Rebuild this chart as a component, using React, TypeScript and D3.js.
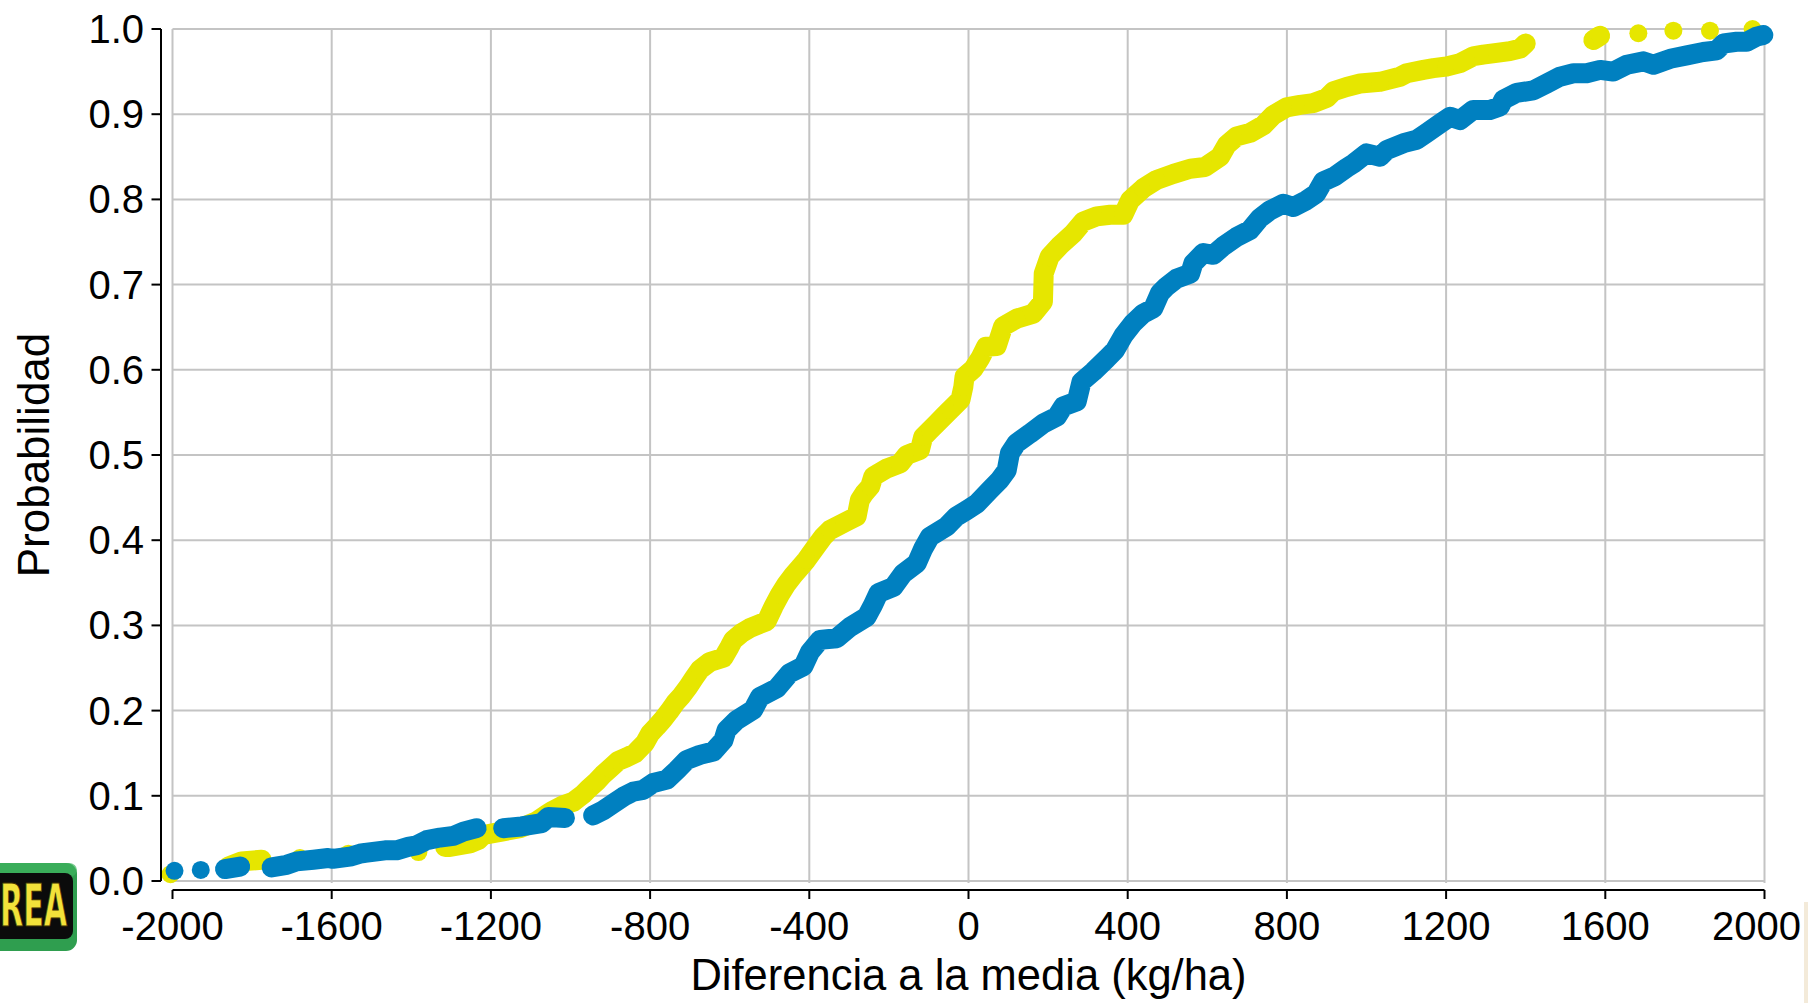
import React from "react";
import * as d3 from "d3";

const xTicks = [-2000, -1600, -1200, -800, -400, 0, 400, 800, 1200, 1600, 2000];
const yTicks = [0, 0.1, 0.2, 0.3, 0.4, 0.5, 0.6, 0.7, 0.8, 0.9, 1.0];
const xTitle = "Diferencia a la media (kg/ha)";
const yTitle = "Probabilidad";

// Yellow series: [difference (kg/ha), cumulative probability]
const yellowSeries: [number, number][] = [
  [-2005, 0.008], [-1860, 0.017], [-1826, 0.023], [-1776, 0.025], [-1680, 0.027],
  [-1558, 0.032], [-1382, 0.034], [-1315, 0.040], [-1303, 0.040], [-1253, 0.044],
  [-1232, 0.048], [-1219, 0.054], [-1173, 0.058], [-1127, 0.062], [-1085, 0.070],
  [-1060, 0.078], [-1043, 0.083], [-1018, 0.089], [-993, 0.093], [-968, 0.102],
  [-955, 0.108], [-934, 0.117], [-918, 0.125], [-901, 0.132], [-880, 0.141],
  [-860, 0.145], [-838, 0.150], [-813, 0.162], [-800, 0.173], [-784, 0.181],
  [-767, 0.190], [-752, 0.199], [-737, 0.209], [-720, 0.218], [-704, 0.228],
  [-690, 0.238], [-675, 0.248], [-650, 0.257], [-616, 0.262], [-600, 0.275],
  [-591, 0.283], [-570, 0.291], [-549, 0.297], [-507, 0.305], [-490, 0.322],
  [-474, 0.336], [-458, 0.348], [-440, 0.359], [-423, 0.368], [-407, 0.377],
  [-381, 0.394], [-365, 0.404], [-348, 0.412], [-306, 0.422], [-281, 0.428],
  [-273, 0.447], [-262, 0.455], [-247, 0.463], [-239, 0.475], [-206, 0.484],
  [-172, 0.490], [-155, 0.500], [-122, 0.506], [-114, 0.521], [-97, 0.529],
  [-80, 0.537], [-63, 0.545], [-46, 0.553], [-20, 0.565], [-13, 0.580],
  [-10, 0.592], [12, 0.601], [30, 0.614], [44, 0.627], [71, 0.628],
  [87, 0.651], [121, 0.660], [163, 0.666], [187, 0.680], [188, 0.696],
  [189, 0.713], [204, 0.733], [230, 0.746], [263, 0.760], [288, 0.774],
  [322, 0.780], [356, 0.782], [389, 0.782], [406, 0.799], [439, 0.813],
  [473, 0.823], [515, 0.830], [557, 0.836], [594, 0.838], [632, 0.850],
  [649, 0.864], [674, 0.874], [707, 0.878], [741, 0.887], [766, 0.899],
  [799, 0.908], [833, 0.911], [866, 0.913], [900, 0.919], [917, 0.927],
  [950, 0.932], [984, 0.936], [1034, 0.938], [1084, 0.944], [1101, 0.948],
  [1143, 0.952], [1168, 0.954], [1201, 0.956], [1235, 0.960], [1268, 0.968],
  [1293, 0.970], [1327, 0.972], [1360, 0.974], [1386, 0.977], [1400, 0.983],
  [1570, 0.987], [1587, 0.992], [1683, 0.995], [1771, 0.998], [1863, 0.998],
  [1970, 1.0],
];

// Blue series
const blueSeries: [number, number][] = [
  [-1995, 0.012], [-1929, 0.013], [-1868, 0.014], [-1830, 0.017], [-1751, 0.016],
  [-1713, 0.019], [-1688, 0.023], [-1646, 0.025], [-1609, 0.027], [-1597, 0.026],
  [-1550, 0.029], [-1529, 0.032], [-1516, 0.033], [-1466, 0.036], [-1437, 0.036],
  [-1408, 0.040], [-1386, 0.042], [-1361, 0.048], [-1328, 0.051], [-1294, 0.053],
  [-1269, 0.058], [-1236, 0.062], [-1169, 0.062], [-1123, 0.064], [-1072, 0.068],
  [-1056, 0.075], [-1014, 0.074], [-943, 0.077], [-918, 0.083], [-892, 0.091],
  [-867, 0.099], [-842, 0.105], [-817, 0.107], [-792, 0.115], [-758, 0.119],
  [-733, 0.130], [-708, 0.142], [-675, 0.148], [-641, 0.152], [-616, 0.165],
  [-608, 0.177], [-582, 0.189], [-541, 0.201], [-524, 0.216], [-482, 0.226],
  [-449, 0.244], [-415, 0.252], [-398, 0.269], [-373, 0.283], [-331, 0.285],
  [-298, 0.298], [-256, 0.310], [-240, 0.324], [-226, 0.338], [-189, 0.345],
  [-164, 0.361], [-130, 0.373], [-114, 0.390], [-97, 0.404], [-55, 0.416],
  [-30, 0.428], [-5, 0.435], [21, 0.443], [54, 0.459], [79, 0.471],
  [96, 0.482], [104, 0.502], [121, 0.514], [154, 0.525], [188, 0.537],
  [222, 0.545], [238, 0.557], [272, 0.563], [284, 0.586], [314, 0.598],
  [347, 0.613], [368, 0.623], [389, 0.640], [414, 0.655], [439, 0.666],
  [464, 0.672], [481, 0.690], [498, 0.698], [523, 0.707], [557, 0.713],
  [565, 0.725], [590, 0.737], [615, 0.735], [640, 0.745], [674, 0.756],
  [707, 0.764], [732, 0.778], [757, 0.787], [791, 0.795], [816, 0.791],
  [849, 0.799], [874, 0.807], [891, 0.821], [920, 0.827], [950, 0.837],
  [967, 0.842], [1000, 0.854], [1034, 0.850], [1051, 0.858], [1093, 0.866],
  [1126, 0.870], [1151, 0.878], [1185, 0.889], [1210, 0.897], [1235, 0.893],
  [1268, 0.905], [1310, 0.905], [1335, 0.909], [1344, 0.917], [1377, 0.925],
  [1419, 0.928], [1453, 0.936], [1486, 0.944], [1520, 0.948], [1553, 0.948],
  [1587, 0.952], [1620, 0.950], [1654, 0.958], [1696, 0.962], [1721, 0.958],
  [1763, 0.965], [1805, 0.969], [1846, 0.973], [1880, 0.975], [1897, 0.983],
  [1930, 0.985], [1955, 0.985], [1980, 0.991], [1997, 0.993],
];

const W = 1808;
const H = 1003;
const FONT = "'Liberation Sans', Arial, Helvetica, sans-serif";
const YELLOW = "#e6e600";
const BLUE = "#0080c0";
const R = 9;
const BAND = 20;

const x = d3.scaleLinear().domain([-2000, 2000]).range([172.5, 1764.5]);
const y = d3.scaleLinear().domain([0, 1]).range([881, 29]);

function runs(pts: [number, number][]): [number, number][][] {
  const out: [number, number][][] = [];
  let cur: [number, number][] = [];
  pts.forEach((p, i) => {
    if (i === 0) {
      cur = [p];
      return;
    }
    const q = pts[i - 1];
    const d = Math.hypot(x(p[0]) - x(q[0]), y(p[1]) - y(q[1]));
    if (d < 22) cur.push(p);
    else {
      out.push(cur);
      cur = [p];
    }
  });
  if (cur.length) out.push(cur);
  return out;
}

const line = d3
  .line<[number, number]>()
  .x((d) => x(d[0]))
  .y((d) => y(d[1]))
  .curve(d3.curveLinear);

function Series({ data, color }: { data: [number, number][]; color: string }) {
  const groups = runs(data).filter((g) => g.length > 1);
  return (
    <g>
      {groups.map((g, i) => (
        <path
          key={"l" + i}
          d={line(g) || ""}
          fill="none"
          stroke={color}
          strokeWidth={BAND}
          strokeLinecap="round"
          strokeLinejoin="round"
        />
      ))}
      {data.map((d, i) => (
        <circle key={i} cx={x(d[0])} cy={y(d[1])} r={R} fill={color} />
      ))}
    </g>
  );
}

export default function App() {
  const fmtY = d3.format(".1f");
  const lastX = xTicks[xTicks.length - 1];
  return (
    <svg
      width={W}
      height={H}
      viewBox={`0 0 ${W} ${H}`}
      style={{ position: "absolute", left: 0, top: 0, background: "#ffffff" }}
    >
      <rect x={0} y={0} width={W} height={H} fill="#ffffff" />
      {/* faint strip at right edge */}
      <rect x={1804} y={902} width={4} height={101} fill="#f3ead9" />

      {/* grid */}
      <g stroke="#c4c4c4" strokeWidth={2}>
        {xTicks.map((t) => (
          <line key={"gx" + t} x1={x(t)} x2={x(t)} y1={y(1)} y2={y(0) + 2} />
        ))}
        {yTicks.map((t) => (
          <line key={"gy" + t} x1={x(-2000)} x2={x(2000)} y1={y(t)} y2={y(t)} />
        ))}
      </g>

      <Series data={yellowSeries} color={YELLOW} />
      <Series data={blueSeries} color={BLUE} />

      {/* y axis */}
      <g>
        <line x1={161} x2={161} y1={y(1)} y2={y(0)} stroke="#000" strokeWidth={2} />
        {yTicks.map((t) => (
          <g key={"ty" + t}>
            <line x1={151.5} x2={161} y1={y(t)} y2={y(t)} stroke="#000" strokeWidth={2} />
            <text
              x={144}
              y={y(t) + 14}
              textAnchor="end"
              fontFamily={FONT}
              fontSize={40}
              fill="#000"
            >
              {fmtY(t)}
            </text>
          </g>
        ))}
      </g>

      {/* x axis */}
      <g>
        <line x1={x(-2000)} x2={x(2000)} y1={890} y2={890} stroke="#000" strokeWidth={2} />
        {xTicks.map((t) => (
          <g key={"tx" + t}>
            <line x1={x(t)} x2={x(t)} y1={890} y2={899} stroke="#000" strokeWidth={2} />
            <text
              x={t === lastX ? 1801 : x(t)}
              y={940}
              textAnchor={t === lastX ? "end" : "middle"}
              fontFamily={FONT}
              fontSize={40}
              fill="#000"
            >
              {String(t)}
            </text>
          </g>
        ))}
      </g>

      {/* axis titles */}
      <text
        x={(x(-2000) + x(2000)) / 2}
        y={990}
        textAnchor="middle"
        fontFamily={FONT}
        fontSize={43.5}
        fill="#000"
      >
        {xTitle}
      </text>
      <text
        transform={`translate(49, ${(y(0) + y(1)) / 2}) rotate(-90)`}
        textAnchor="middle"
        fontFamily={FONT}
        fontSize={44}
        fill="#000"
      >
        {yTitle}
      </text>

      {/* logo fragment at bottom-left */}
      <g>
        <rect x={-14} y={863} width={91} height={88} rx={11} fill="#2f9e4f" />
        <rect x={-14} y={863} width={91} height={14} rx={8} fill="#3fb35f" opacity={0.7} />
        <rect x={-10} y={873} width={83} height={66} rx={8} fill="#0b0b0b" />
        <text
          transform="translate(0, 926) scale(0.52, 1)"
          fontFamily="'DejaVu Sans', sans-serif"
          fontWeight="bold"
          fontSize={58}
          fill="#f2e23a"
          stroke="#3a3000"
          strokeWidth={1}
        >
          REA
        </text>
      </g>
    </svg>
  );
}
